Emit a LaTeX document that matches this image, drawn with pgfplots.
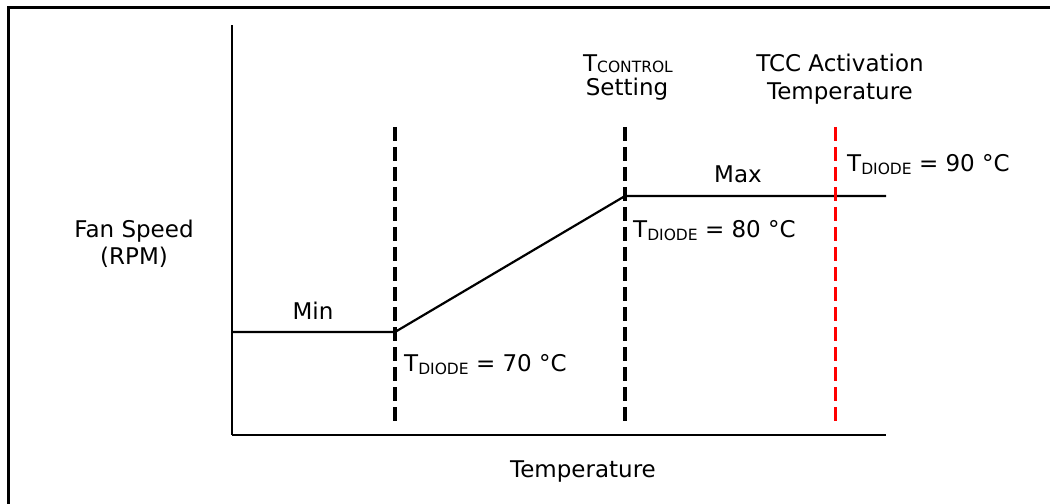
\documentclass[border=0pt]{standalone}
\usepackage{pgfplots}
\pgfplotsset{compat=1.18}
\usepackage{fontspec}
\setmainfont{DejaVu Sans}
\newcommand\sub[2][-3bp]{\raisebox{#1}{\fontsize{15.5bp}{15.5bp}\selectfont #2}}
\begin{document}
\begin{tikzpicture}[every node/.style={font=\fontsize{23bp}{27bp}\selectfont, inner sep=0pt}]
\useasboundingbox (0,0) rectangle (1050bp,504bp);
\draw[line width=3bp] (8bp,0) -- (8bp,496bp) -- (1050bp,496bp);
\begin{axis}[
  at={(232bp,69bp)}, anchor=south west,
  width=654bp, height=410bp, scale only axis,
  xmin=0, xmax=654, ymin=0, ymax=410,
  axis lines=left,
  axis line style={line width=2.2bp, -},
  ticks=none,
  clip=false,
]
% fan speed curve
\addplot[line width=2.2bp, black] coordinates {(0,103) (163,103) (393,239) (654,239)};
% threshold lines
\addplot[line width=3.2bp, black, dash pattern=on 14bp off 6bp] coordinates {(163,308) (163,8)};
\addplot[line width=3.2bp, black, dash pattern=on 14bp off 6bp] coordinates {(393,308) (393,8)};
\addplot[line width=3bp, red, dash pattern=on 14bp off 6bp] coordinates {(603,308) (603,8)};
\end{axis}
% labels (positions in bp)
\node[anchor=base] at (134bp,266bp) {Fan Speed};
\node[anchor=base] at (134bp,239bp) {(RPM)};
\node[anchor=base] at (313bp,184bp) {Min};
\node[anchor=base west] at (404bp,132bp) {T\sub{DIODE} = 70 °C};
\node[anchor=base] at (738bp,321bp) {Max};
\node[anchor=base west] at (633bp,266bp) {T\sub{DIODE} = 80 °C};
\node[anchor=base west] at (847bp,332bp) {T\sub{DIODE} = 90 °C};
\node[anchor=base] at (628bp,432bp) {T\sub[-1bp]{CONTROL}};
\node[anchor=base] at (627bp,408bp) {Setting};
\node[anchor=base] at (840bp,432bp) {TCC Activation};
\node[anchor=base] at (840bp,404bp) {Temperature};
\node[anchor=base] at (583bp,27bp) {Temperature};
\end{tikzpicture}
\end{document}
